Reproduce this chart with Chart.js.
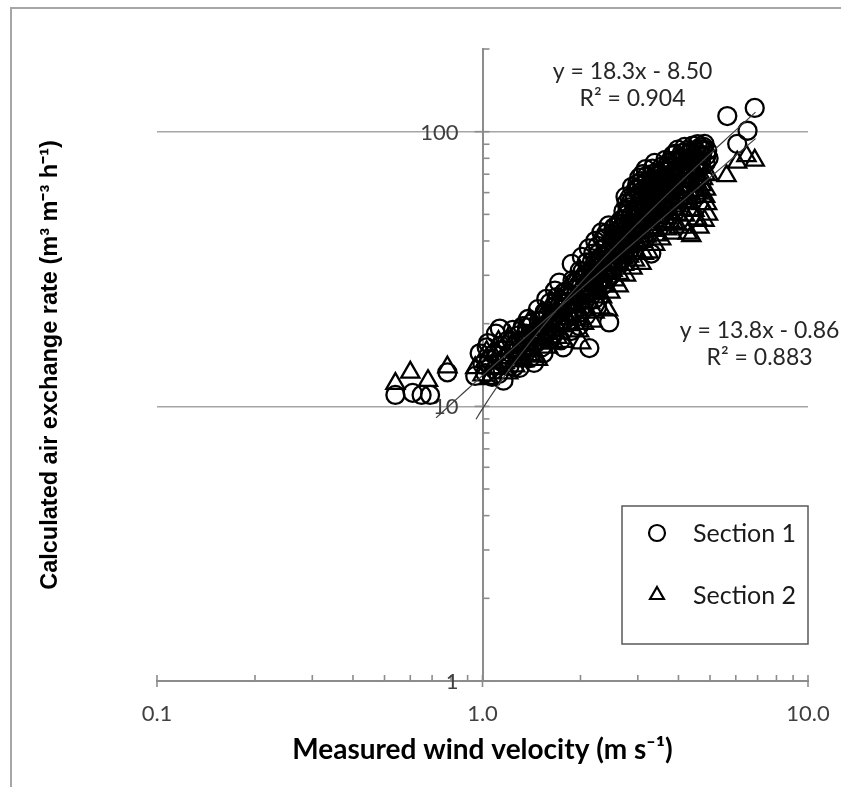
<!DOCTYPE html>
<html>
<head>
<meta charset="utf-8">
<script src="https://cdn.jsdelivr.net/npm/chart.js@4/dist/chart.umd.min.js"></script>
<style>
  html, body { margin: 0; padding: 0; background: #fff; }
  #wrap { position: relative; width: 841px; height: 787px; overflow: hidden; }
  #wrap canvas { position: absolute; left: 0; top: 0; }
  #frame { position: absolute; left: 10px; top: 7px; width: 900px; height: 900px;
           border-left: 2px solid #a6a6a6; border-top: 2px solid #a6a6a6; pointer-events: none; }
</style>
</head>
<body>
<div id="wrap">
  <canvas id="chart" width="841" height="787"></canvas>
  <div id="frame"></div>
</div>
<script>
// Section 1 (circles): measured wind velocity (m/s) vs calculated air exchange rate
const sec1X = [0.54,0.61,0.65,0.69,0.78,0.95,
  0.98,1.00,1.02,1.03,1.05,1.07,1.08,1.10,1.12,1.14,1.17,1.19,
  1.22,1.25,1.28,1.30,1.33,1.35,1.38,1.40,1.43,1.46,1.49,
  1.52,1.55,1.58,1.61,1.63,1.66,1.69,1.71,1.72,1.75,1.77,1.79,
  1.81,1.84,1.87,1.89,1.91,1.94,1.96,1.99,2.01,2.04,2.06,2.09,2.11,2.13,2.16,2.19,2.21,
  2.24,2.26,2.29,2.31,2.34,2.37,2.40,2.42,2.45,2.47,2.50,2.53,2.56,2.59,2.63,2.66,2.68,
  2.71,2.74,2.77,2.80,2.83,2.86,2.89,2.93,2.96,2.99,3.01,3.03,3.06,3.10,3.12,3.15,3.19,3.22,3.25,3.28,3.30,
  3.33,3.36,3.40,3.43,3.46,3.50,3.53,3.56,3.60,3.63,3.66,3.70,3.75,3.80,3.85,3.89,3.92,3.96,
  4.00,4.05,4.10,4.15,4.20,4.25,4.30,4.35,4.42,4.46,4.50,4.55,4.60,4.66,4.72,4.81,4.85,4.90,
  5.65,6.06,6.52,6.86,
  1.04,1.09,1.13,1.16,1.21,1.24,1.27,1.32,1.36,1.41,1.44,1.48,1.51,1.54,1.57,1.60,1.64,1.67,1.70,1.74,
  1.78,1.82,1.85,1.88,1.92,1.95,1.98,2.02,2.05,2.08,2.12,2.15,2.18,2.22,2.25,2.28,2.32,2.35,2.39,2.44,
  2.48,2.52,2.55,2.58,2.62,2.65,2.70,2.75,2.79,2.84,2.88,2.92,2.97,3.04,3.08,3.13,3.17,3.21,3.26,3.31,
  3.38,3.45,3.52,3.58,3.65,3.72,3.78,3.84,3.90,3.98,4.08,4.18,4.28,4.38,4.48,4.58,4.70,4.78,4.95,
  1.31,1.37,1.42,1.47,1.53,1.59,1.62,1.68,1.73,1.80,1.86,1.90,1.97,2.03,2.07,2.14,2.17,2.20,
  2.23,2.27,2.33,2.38,2.43,2.46,2.51,2.54,2.57,2.61,2.64,2.67,2.72,2.76,2.78,2.82,2.85,2.87,2.91,2.94,
  2.98,3.02,3.05,3.07,3.11,3.14,3.18,3.20,3.24,3.27,3.32,3.35,3.39,3.42,3.47,3.51,3.55,3.59,3.62,3.68,
  3.73,3.77,3.82,3.87,3.94,4.02,4.12,4.22,4.32,4.40,4.52,4.62,4.68,4.76,4.88];
const sec1Y = [11.0,11.2,11.0,11.0,13.3,12.9,
  15.6,14.2,13.2,16.4,14.8,12.8,15.5,18.4,13.1,16.6,14.9,17.3,
  15.6,13.9,18.1,13.8,19.6,16.2,20.8,15.0,18.5,17.0,20.4,
  16.4,22.0,18.8,23.8,17.6,21.2,25.0,19.4,28.2,22.8,16.4,20.6,
  26.2,22.2,18.8,28.8,24.2,26.8,21.2,31.2,25.4,22.6,29.2,33.4,27.2,16.3,30.6,36.0,24.6,
  32.6,38.4,28.6,35.0,40.6,31.0,42.6,36.2,20.2,33.4,39.2,44.8,35.6,40.6,44.2,47.6,37.4,
  51.4,42.4,55.0,46.4,57.4,49.6,40.8,51.5,61.6,64.6,53.2,68.0,47.6,70.0,57.8,62.0,69.0,50.6,56.2,63.4,36.0,
  73.4,59.2,53.6,65.4,69.8,57.0,62.2,74.6,67.0,59.8,71.4,65.2,77.6,69.2,62.6,83.0,73.0,67.2,
  78.4,70.8,83.6,76.0,67.8,85.6,79.2,72.6,89.0,81.4,74.8,84.6,78.0,87.6,82.2,90.3,76.8,85.4,
  114,90.3,100.8,122,
  17.0,13.6,19.2,12.4,14.0,19.0,16.8,15.2,18.4,20.0,14.4,22.6,18.0,15.6,24.6,20.0,18.0,26.4,22.0,17.4,
  26.0,24.0,20.6,33.0,28.4,23.8,19.6,35.0,27.0,21.4,37.6,26.0,30.0,40.0,23.0,34.4,43.0,27.6,38.0,45.6,
  30.0,42.0,45.0,33.0,46.0,39.0,45.0,58.0,52.0,41.0,63.0,56.0,44.0,60.0,66.0,51.0,73.0,61.0,45.0,67.0,
  77.0,62.0,70.0,52.0,79.0,58.0,74.0,82.0,66.0,86.0,64.0,88.0,70.0,85.0,68.0,90.0,77.0,88.0,80.0,
  17.2,19.4,16.4,19.0,20.6,21.6,19.6,23.2,20.4,23.0,25.2,21.8,27.6,31.0,24.4,28.8,33.6,28.0,
  30.0,36.0,33.0,41.0,29.0,37.0,34.0,41.0,38.0,42.0,36.0,43.0,48.0,44.0,50.0,53.0,46.0,56.0,48.0,58.0,
  52.0,62.0,56.0,51.0,64.0,58.0,54.0,66.0,60.0,53.0,70.0,63.0,58.0,71.0,64.0,60.0,68.0,72.0,64.0,75.0,
  68.0,62.0,78.0,71.0,79.0,74.0,80.0,76.0,84.0,79.0,83.0,74.0,82.0,86.0,82.0];

// Section 2 (triangles)
const sec2X = [0.54,0.60,0.68,0.78,0.95,
  1.00,1.02,1.05,1.08,1.11,1.14,1.17,1.20,1.23,1.27,1.31,1.34,1.38,1.42,1.46,1.49,
  1.53,1.56,1.59,1.63,1.67,1.70,1.74,1.78,1.82,1.86,1.90,1.94,1.98,
  2.02,2.06,2.10,2.14,2.18,2.22,2.26,2.30,2.34,2.38,2.43,2.46,2.51,2.55,2.59,
  2.63,2.68,2.72,2.77,2.82,2.89,2.92,2.96,3.01,3.08,3.11,3.15,3.19,
  3.24,3.29,3.34,3.39,3.44,3.49,3.54,3.59,3.64,3.69,3.74,3.79,3.83,3.87,3.91,3.95,
  4.01,4.07,4.13,4.19,4.27,4.31,4.38,4.42,4.48,4.54,4.60,4.64,4.70,4.76,4.81,4.86,4.90,4.95,
  5.62,6.06,6.47,6.86,
  1.03,1.07,1.12,1.16,1.21,1.26,1.30,1.36,1.40,1.44,1.48,1.52,1.58,1.62,1.66,1.71,1.76,1.81,1.85,1.90,
  1.95,2.00,2.01,2.05,2.09,2.13,2.17,2.21,2.25,2.29,2.33,2.37,2.42,2.47,2.52,2.57,2.62,2.66,2.71,2.76,
  2.81,2.86,2.94,2.99,3.05,3.13,3.18,3.27,3.36,3.43,3.52,3.60,3.68,3.77,3.86,3.97,4.05,4.16,4.24,4.35,
  4.46,4.57,4.67,4.74,4.84,4.93,
  1.29,1.35,1.41,1.47,1.55,1.60,1.65,1.69,1.73,1.79,1.83,1.89,1.93,1.99,2.04,2.11,2.16,2.20,
  2.23,2.28,2.35,2.40,2.44,2.50,2.54,2.60,2.65,2.70,2.74,2.79,2.84,2.90,2.95,3.00,3.04,3.09,3.14,3.20,
  3.26,3.31,3.37,3.41,3.47,3.56,3.62,3.71,3.78,3.85,3.93,4.03,4.11,4.22,4.29,4.40,4.50,4.62,4.72,4.83];
const sec2Y = [12.1,13.3,12.4,13.9,13.8,
  13.0,14.6,12.6,15.4,13.7,16.0,14.4,13.2,16.8,15.0,16.6,14.6,17.8,16.2,15.2,19.0,
  17.0,20.4,16.4,19.0,21.8,17.8,20.8,17.2,23.4,19.8,24.8,21.4,18.8,
  25.8,22.4,28.2,23.8,20.4,29.8,25.8,22.8,31.8,27.4,22.4,33.6,31.2,28.8,34.8,
  30.4,37.6,32.8,39.6,35.2,31.8,42.6,36.8,44.6,33.1,39.8,47.6,41.6,
  36.4,49.6,43.6,38.8,52.6,45.8,40.6,55.4,48.6,44.2,57.6,50.6,42.6,46.6,59.6,53.6,
  44.8,61.6,55.6,49.6,42.6,63.4,41.8,57.6,51.6,65.4,59.6,44.8,54.6,67.4,47.5,61.6,54.6,69.6,
  69.0,77.3,81.6,78.6,
  15.8,13.8,17.2,15.0,18.0,14.0,19.4,16.0,20.6,17.6,14.8,21.8,18.4,23.6,17.0,24.2,19.6,26.6,21.6,28.4,
  23.0,30.0,17.0,20.0,25.0,32.4,26.8,22.0,34.0,28.6,25.0,36.0,30.6,26.0,38.0,32.6,27.4,40.6,34.6,30.0,
  44.0,38.6,34.0,48.0,40.0,36.0,52.0,44.6,56.0,42.0,60.0,46.0,62.0,47.0,64.0,50.0,66.0,46.0,68.0,52.0,
  72.0,48.0,74.0,58.0,70.0,50.0,
  15.8,17.8,15.4,18.6,18.0,20.8,22.6,20.0,22.6,21.4,25.4,23.4,26.8,24.6,28.4,26.6,30.4,27.6,
  26.4,31.4,29.8,33.6,31.0,35.6,33.4,37.0,35.0,41.0,36.4,42.8,38.0,45.0,41.0,39.0,47.0,43.0,50.0,46.0,
  53.0,47.0,51.0,57.0,49.0,53.0,58.0,52.0,61.0,55.0,63.0,57.0,52.0,60.0,55.0,66.0,61.0,69.0,64.0,58.0];

const seriesNames = ['Section 1', 'Section 2'];
const seriesShapes = ['circle', 'triangle'];

// Linear trendlines y = a·x + b and their R², as printed on the chart
const fitSlope = [18.3, 13.8];
const fitIntercept = [-8.50, -0.86];
const fitR2 = [0.904, 0.883];
const fitFrom = [0.955, 0.72];
const fitTo = [6.9, 6.9];

// Axis ticks
const xMajorTicks = [0.1, 1, 10];
const xTickLabels = ['0.1', '1.0', '10.0'];
const xMinorTicks = [0.2,0.3,0.4,0.5,0.6,0.7,0.8,0.9,2,3,4,5,6,7,8,9];
const yMajorTicks = [1, 10, 100];
const yTickLabels = ['1', '10', '100'];
const yMinorTicks = [2,3,4,5,6,7,8,9,20,30,40,50,60,70,80,90,200];
const yGridAt = [10, 100];

// Where the equation labels sit (data units, centre of first line)
const eqAnchorX = [2.89, 7.1];
const eqAnchorY = [166, 18.9];

const pts = (xs, ys) => xs.map((x, i) => ({x, y: ys[i]}));

// Trendline: the straight fit plotted on log axes, traced with a log-spaced run of x
function fitCurve(k) {
  const out = [];
  const n = 60;
  const l0 = Math.log10(fitFrom[k]), l1 = Math.log10(fitTo[k]);
  for (let i = 0; i <= n; i++) {
    const x = Math.pow(10, l0 + (l1 - l0) * i / n);
    out.push({x, y: fitSlope[k] * x + fitIntercept[k]});
  }
  return out;
}

const fmtEq = k => 'y = ' + fitSlope[k].toFixed(1) + 'x ' + (fitIntercept[k] < 0 ? '- ' : '+ ') +
  Math.abs(fitIntercept[k]).toFixed(2);
const fmtR2 = k => 'R² = ' + fitR2[k].toFixed(3);

const AXIS = '#8c8c8c';
const LABEL_FONT = 'Lato, "Noto Sans", sans-serif';

// Tick marks and value labels of the crossing axes
const axisMarks = {
  id: 'axisMarks',
  beforeDatasetsDraw(chart) {
    const {ctx, scales: {x, y}} = chart;
    const ax = x.getPixelForValue(1);
    const ay = y.getPixelForValue(1);
    ctx.save();
    ctx.strokeStyle = AXIS;
    ctx.lineWidth = 1.6;
    const seg = (x1, y1, x2, y2) => { ctx.beginPath(); ctx.moveTo(x1, y1); ctx.lineTo(x2, y2); ctx.stroke(); };
    xMinorTicks.forEach(v => { const p = x.getPixelForValue(v); seg(p, ay, p, ay - 6); });
    xMajorTicks.forEach(v => { const p = x.getPixelForValue(v); seg(p, ay - 6, p, ay + 6); });
    yMinorTicks.forEach(v => { const p = y.getPixelForValue(v); seg(ax, p, ax + 7, p); });
    yMajorTicks.forEach(v => { const p = y.getPixelForValue(v); seg(ax - 8, p, ax + 7, p); });

    // y values sit just left of the vertical axis
    ctx.fillStyle = '#404040';
    ctx.font = '22px ' + LABEL_FONT;
    ctx.textAlign = 'right';
    ctx.textBaseline = 'middle';
    yMajorTicks.forEach((v, i) => ctx.fillText(yTickLabels[i], ax - 24, y.getPixelForValue(v) + 1));
    ctx.restore();
  }
};

// Trendline equations and the boxed legend
const annotations = {
  id: 'annotations',
  afterDraw(chart) {
    const {ctx, scales: {x, y}, chartArea} = chart;
    ctx.save();
    ctx.fillStyle = '#262626';
    ctx.font = '23px ' + LABEL_FONT;
    ctx.textAlign = 'center';
    ctx.textBaseline = 'middle';
    for (let k = 0; k < fitSlope.length; k++) {
      const cx = x.getPixelForValue(eqAnchorX[k]);
      const cy = y.getPixelForValue(eqAnchorY[k]);
      ctx.fillText(fmtEq(k), cx, cy);
      ctx.fillText(fmtR2(k), cx, cy + 27);
    }

    // legend box
    const bx = chartArea.right - 186, by = chartArea.top + 457, bw = 186, bh = 138;
    ctx.strokeStyle = '#595959';
    ctx.lineWidth = 1.5;
    ctx.strokeRect(bx, by, bw, bh);
    ctx.font = '25px ' + LABEL_FONT;
    ctx.textAlign = 'left';
    chart.data.datasets.slice(0, seriesNames.length).forEach((ds, i) => {
      const rowY = by + 27 + i * 62;
      ctx.strokeStyle = '#000';
      ctx.fillStyle = 'rgba(0,0,0,0)';
      ctx.lineWidth = 2.2;
      Chart.helpers.drawPoint(ctx, {pointStyle: ds.pointStyle, radius: 8, borderWidth: 2.2}, bx + 35, rowY);
      ctx.fillStyle = '#1a1a1a';
      ctx.fillText(ds.label, bx + 71, rowY + 1);
    });
    ctx.restore();
  }
};

const markerDataset = (i, xs, ys) => ({
  type: 'scatter',
  label: seriesNames[i],
  data: pts(xs, ys),
  pointStyle: seriesShapes[i],
  pointRadius: seriesShapes[i] === 'circle' ? 9 : 10.5,
  pointBorderWidth: 2.3,
  pointBorderColor: '#000',
  pointBackgroundColor: 'rgba(0,0,0,0)',
  borderColor: '#000',
  showLine: false,
  yAxisID: 'y',
  xAxisID: 'x',
  order: 2
});

const trendDataset = k => ({
  type: 'line',
  label: 'fit ' + (k + 1),
  data: fitCurve(k),
  borderColor: '#404040',
  borderWidth: 1.2,
  pointRadius: 0,
  fill: false,
  tension: 0,
  yAxisID: 'y',
  xAxisID: 'x',
  order: 1
});

new Chart(document.getElementById('chart'), {
  type: 'scatter',
  data: {
    datasets: [
      markerDataset(0, sec1X, sec1Y),
      markerDataset(1, sec2X, sec2Y),
      trendDataset(0),
      trendDataset(1)
    ]
  },
  options: {
    responsive: false,
    animation: false,
    devicePixelRatio: 1,
    layout: { padding: { left: 0, right: 33, top: 49, bottom: 0 } },
    plugins: { legend: { display: false }, tooltip: { enabled: false } },
    scales: {
      yt: {
        type: 'linear',
        position: 'left',
        grid: { display: false, drawTicks: false },
        border: { display: false },
        ticks: { display: false },
        title: {
          display: true,
          text: 'Calculated air exchange rate (m³ m⁻³ h⁻¹)',
          color: '#000',
          font: { family: '"Liberation Sans", Arial, sans-serif', weight: 'bold', size: 23.5 },
          padding: { top: 36, bottom: 0 }
        },
        afterFit: s => { s.width = 157; }
      },
      x: {
        type: 'logarithmic',
        position: 'bottom',
        min: 0.1,
        max: 10,
        border: { display: true, color: AXIS, width: 2 },
        grid: { display: true, drawOnChartArea: false, drawTicks: false },
        afterBuildTicks: s => { s.ticks = xMajorTicks.map(v => ({value: v})); },
        ticks: {
          autoSkip: false,
          maxRotation: 0,
          padding: 0,
          color: '#404040',
          font: { family: LABEL_FONT, size: 22, lineHeight: 3.0 },
          callback: (v, i) => xTickLabels[i]
        },
        title: {
          display: true,
          text: 'Measured wind velocity (m s⁻¹)',
          color: '#000',
          font: { family: LABEL_FONT, weight: 'bold', size: 28 },
          padding: { top: 0, bottom: 20 }
        },
        afterFit: s => { s.height = 106; }
      },
      y: {
        type: 'logarithmic',
        position: { x: 1 },
        min: 1,
        max: 200,
        border: { display: true, color: AXIS, width: 2 },
        grid: {
          display: true,
          drawTicks: false,
          lineWidth: 1.5,
          color: c => (c.tick && yGridAt.includes(c.tick.value)) ? '#a6a6a6' : 'rgba(0,0,0,0)'
        },
        afterBuildTicks: s => { s.ticks = yMajorTicks.map(v => ({value: v})); },
        ticks: { display: false }
      }
    }
  },
  plugins: [axisMarks, annotations]
});
</script>
</body>
</html>
